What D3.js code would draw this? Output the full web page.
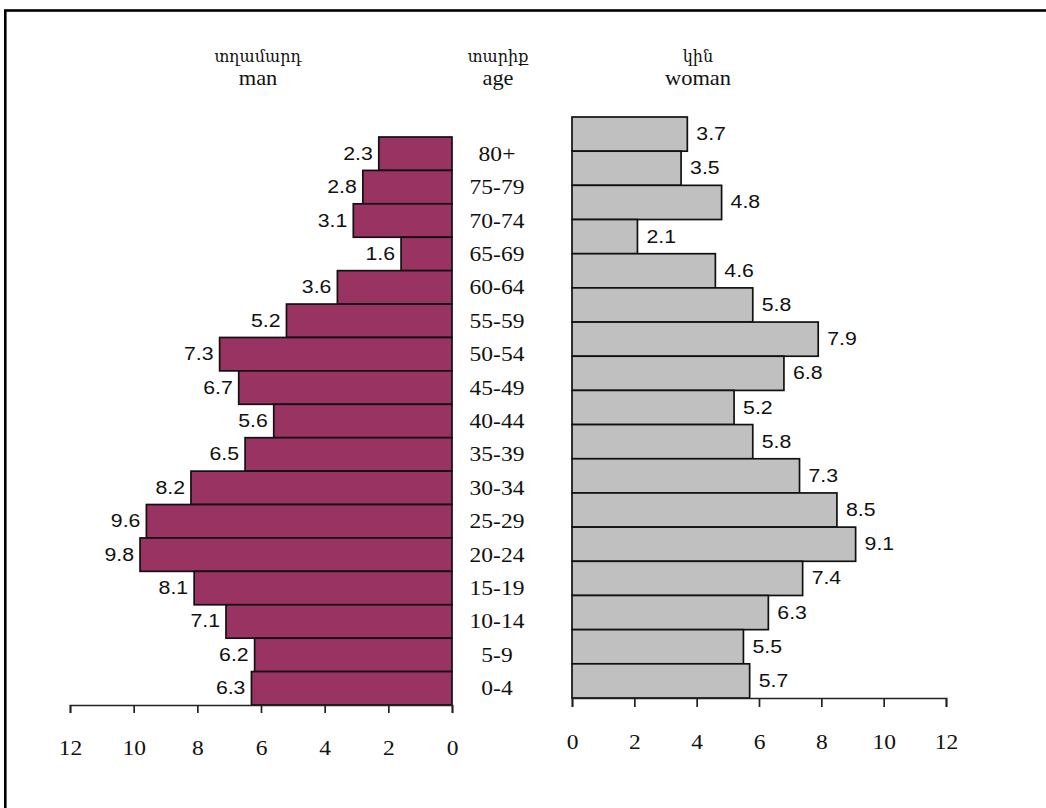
<!DOCTYPE html>
<html>
<head>
<meta charset="utf-8">
<script src="https://cdn.jsdelivr.net/npm/d3@7"></script>
<style>
  body { margin: 0; background: #fff; }
  svg { display: block; }
</style>
</head>
<body>
<div id="mainContainer"></div>
<script>
// age groups, top to bottom
var ageGroups = ["80+", "75-79", "70-74", "65-69", "60-64", "55-59", "50-54", "45-49",
    "40-44", "35-39", "30-34", "25-29", "20-24", "15-19", "10-14", "5-9", "0-4"];
var manValues = [2.3, 2.8, 3.1, 1.6, 3.6, 5.2, 7.3, 6.7, 5.6, 6.5, 8.2, 9.6, 9.8, 8.1, 7.1, 6.2, 6.3];
var womanValues = [3.7, 3.5, 4.8, 2.1, 4.6, 5.8, 7.9, 6.8, 5.2, 5.8, 7.3, 8.5, 9.1, 7.4, 6.3, 5.5, 5.7];
var tickValues = [0, 2, 4, 6, 8, 10, 12];
var headers = [
    { hy: "տղամարդ", en: "man", x: 258 },
    { hy: "տարիք", en: "age", x: 498 },
    { hy: "կին", en: "woman", x: 698 }
];

var width = 1046, height = 808;
var stretch = 1.12;
var serif = "'Liberation Serif', 'Times New Roman', serif";
var sans = "'Liberation Sans', Arial, sans-serif";

var svg = d3.select('#mainContainer').append('svg')
    .attr('width', width)
    .attr('height', height);

// frame of the page (only top and left edges are visible)
svg.append('rect')
    .attr('x', 5.3).attr('y', 10.5)
    .attr('width', 1100).attr('height', 900)
    .attr('fill', 'none')
    .attr('stroke', '#000')
    .attr('stroke-width', 2.6);

// scales
var xMan = d3.scaleLinear().domain([0, 12]).range([452, 70]);
var xWoman = d3.scaleLinear().domain([0, 12]).range([572, 946]);
var yMan = d3.scaleBand().domain(ageGroups).range([137, 705]);
var yWoman = d3.scaleBand().domain(ageGroups).range([117, 698]);

function stretchedText(sel, x, y) {
    return sel.attr('transform', 'translate(' + x + ',' + y + ') scale(' + stretch + ',1)');
}

// men bars
svg.append('g').selectAll('rect')
    .data(manValues)
    .enter().append('rect')
    .attr('x', function(d) { return xMan(d); })
    .attr('y', function(d, i) { return yMan(ageGroups[i]); })
    .attr('width', function(d) { return xMan(0) - xMan(d); })
    .attr('height', yMan.bandwidth())
    .attr('fill', '#993362')
    .attr('stroke', '#111')
    .attr('stroke-width', 1.7);

// women bars
svg.append('g').selectAll('rect')
    .data(womanValues)
    .enter().append('rect')
    .attr('x', xWoman(0))
    .attr('y', function(d, i) { return yWoman(ageGroups[i]); })
    .attr('width', function(d) { return xWoman(d) - xWoman(0); })
    .attr('height', yWoman.bandwidth())
    .attr('fill', '#c0c0c0')
    .attr('stroke', '#111')
    .attr('stroke-width', 1.7);

// value labels
svg.append('g').selectAll('text')
    .data(manValues)
    .enter().append('text')
    .each(function(d, i) {
        stretchedText(d3.select(this), xMan(d) - 6, yMan(ageGroups[i]) + yMan.bandwidth() / 2 + 6);
    })
    .attr('text-anchor', 'end')
    .attr('font-family', sans)
    .attr('font-size', '19px')
    .attr('fill', '#111')
    .text(function(d) { return d.toFixed(1); });

svg.append('g').selectAll('text')
    .data(womanValues)
    .enter().append('text')
    .each(function(d, i) {
        stretchedText(d3.select(this), xWoman(d) + 9, yWoman(ageGroups[i]) + yWoman.bandwidth() / 2 + 6);
    })
    .attr('text-anchor', 'start')
    .attr('font-family', sans)
    .attr('font-size', '19px')
    .attr('fill', '#111')
    .text(function(d) { return d.toFixed(1); });

// age labels in the middle
svg.append('g').selectAll('text')
    .data(ageGroups)
    .enter().append('text')
    .each(function(d) {
        stretchedText(d3.select(this), 497, yMan(d) + yMan.bandwidth() / 2 + 7);
    })
    .attr('text-anchor', 'middle')
    .attr('font-family', serif)
    .attr('font-size', '21px')
    .attr('fill', '#111')
    .text(function(d) { return d; });

// axes
var axisMan = svg.append('g')
    .attr('transform', 'translate(0,705)')
    .call(d3.axisBottom(xMan).tickValues(tickValues).tickSize(8).tickPadding(27).tickFormat(d3.format('d')));
var axisWoman = svg.append('g')
    .attr('transform', 'translate(0,698)')
    .call(d3.axisBottom(xWoman).tickValues(tickValues).tickSize(9).tickPadding(27).tickFormat(d3.format('d')));

[axisMan, axisWoman].forEach(function(ax) {
    ax.select('.domain').attr('stroke', '#222').attr('stroke-width', 1.7);
    ax.selectAll('.tick line').attr('stroke', '#222').attr('stroke-width', 1.7);
    ax.selectAll('.tick text')
        .attr('font-family', serif)
        .attr('font-size', '21px')
        .attr('fill', '#111')
        .attr('transform', 'scale(' + stretch + ',1)');
});

// headers
headers.forEach(function(h) {
    svg.append('text')
        .attr('x', h.x).attr('y', 62)
        .attr('text-anchor', 'middle')
        .attr('font-family', "'DejaVu Serif', 'Liberation Serif', serif")
        .attr('font-size', '16px')
        .attr('fill', '#111')
        .text(h.hy);
    stretchedText(svg.append('text'), h.x, 85)
        .attr('text-anchor', 'middle')
        .attr('font-family', serif)
        .attr('font-size', '20px')
        .attr('fill', '#111')
        .text(h.en);
});
</script>
</body>
</html>
